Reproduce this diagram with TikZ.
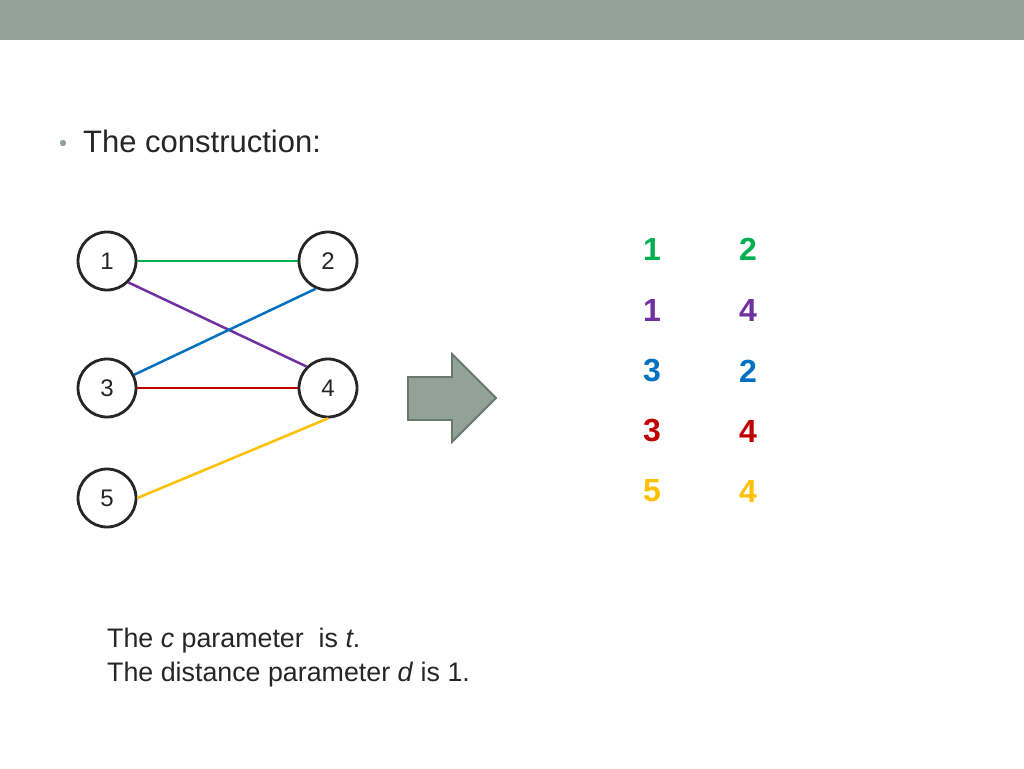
\documentclass[tikz,border=0pt]{standalone}
\usepackage{fontspec}
\setmainfont{Liberation Sans}
\usetikzlibrary{positioning}
\definecolor{bar}{RGB}{147,162,153}
\definecolor{barline}{RGB}{105,120,112}
\definecolor{ink}{RGB}{38,38,38}
\definecolor{cgreen}{RGB}{0,176,80}
\definecolor{cpurple}{RGB}{112,48,160}
\definecolor{cblue}{RGB}{0,112,192}
\definecolor{cred}{RGB}{192,0,0}
\definecolor{cyellow}{RGB}{255,192,0}

\begin{document}
\begin{tikzpicture}[x=1pt,y=-1pt,
    vertex/.style={circle,draw=ink,line width=2.8pt,minimum size=58pt,inner sep=0pt,
      font=\fontsize{24}{28}\selectfont,text=ink},
    edge/.style={line width=2.5pt},
    pairnum/.style={font=\fontsize{32}{38}\selectfont\bfseries}]
    \useasboundingbox (0,0) rectangle (1024,768);
    \fill[white] (0,0) rectangle (1024,768);
    % title bar
    \fill[bar] (0,0) rectangle (1024,40);
    % heading
    \fill[bar] (63,143) circle (3.2);
    \node[anchor=base west,inner sep=0pt,text=ink,font=\fontsize{31}{36}\selectfont]
      (title) at (83,152) {The construction:};
    % graph
    \node[vertex] (n1) at (107,261) {1};
    \node[vertex] (n2) at (328,261) {2};
    \node[vertex] (n3) at (107,388) {3};
    \node[vertex] (n4) at (328,388) {4};
    \node[vertex] (n5) at (107,498) {5};
    \draw[edge,cgreen] (n1.east) -- (n2.west);
    \draw[edge,cpurple] (n1.south east) -- (n4.north west);
    \draw[edge,cblue] (n3.26) -- (n2.246);
    \draw[edge,cred] (n3.east) -- (n4.west);
    \draw[edge,cyellow] (n5.east) -- (n4.south);
    % block arrow
    \draw[fill=bar,draw=barline,line width=1.8pt]
      (408,377) -- (452,377) -- (452,354) -- (496,398) -- (452,442)
      -- (452,420) -- (408,420) -- cycle;
    % pairs
    \foreach \y/\a/\b/\col [count=\i] in {
      249/1/2/cgreen,
      310/1/4/cpurple,
      371/3/2/cblue,
      431/3/4/cred,
      491/5/4/cyellow}{
      \node[pairnum,text=\col] (a\i) at (652,\y) {\a};
      \node[pairnum,text=\col] (b\i) at (748,\y) {\b};
    }
    % parameters
    \node[anchor=base west,inner sep=0pt,align=left,text=ink,
      font=\fontsize{26.8}{34}\selectfont] (params) at (107,681)
      {The \textit{c} parameter\ \ is \textit{t}.\\The distance parameter \textit{d} is 1.};
  \end{tikzpicture}
\end{document}
